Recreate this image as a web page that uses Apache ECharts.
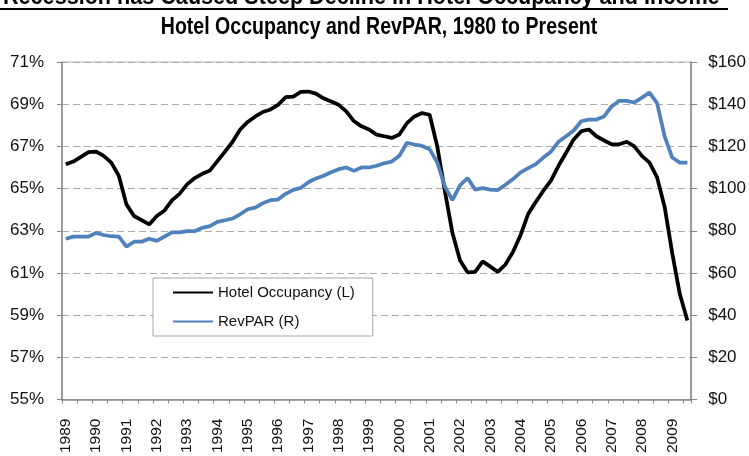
<!DOCTYPE html>
<html>
<head>
<meta charset="utf-8">
<script src="https://cdn.jsdelivr.net/npm/echarts@6/dist/echarts.min.js"></script>
<style>
html, body { margin: 0; padding: 0; background: #fff; }
#hotelChart { width: 749px; height: 456px; }
</style>
</head>
<body>
<div id="hotelChart"></div>
<script>
// tick labels, one per year, quarterly points
var years = ['1989', '1990', '1991', '1992', '1993', '1994', '1995', '1996', '1997', '1998', '1999',
    '2000', '2001', '2002', '2003', '2004', '2005', '2006', '2007', '2008', '2009'];
var quarters = ['Q1', 'Q2', 'Q3', 'Q4'];

// Hotel occupancy (%), left axis
var occupancy = [
    66.15, 66.28, 66.5, 66.73, 66.75, 66.55, 66.23, 65.6,
    64.25, 63.7, 63.5, 63.3, 63.7, 63.95, 64.44, 64.75,
    65.2, 65.5, 65.7, 65.85, 66.3, 66.75, 67.22, 67.8,
    68.16, 68.42, 68.63, 68.75, 68.97, 69.33, 69.36, 69.58,
    69.6, 69.5, 69.28, 69.13, 68.97, 68.66, 68.2, 67.95,
    67.8, 67.56, 67.48, 67.4, 67.56, 68.1, 68.42, 68.58,
    68.5, 67.0, 64.9, 62.9, 61.6, 61.03, 61.05, 61.55,
    61.3, 61.05, 61.4, 62.0, 62.8, 63.8, 64.36, 64.9,
    65.38, 66.08, 66.7, 67.33, 67.72, 67.8, 67.48, 67.28,
    67.1, 67.1, 67.22, 67.0, 66.55, 66.23, 65.53, 64.13,
    61.94, 60.0, 58.75
];

// RevPAR ($), right axis
var revpar = [
    76.2, 77.2, 77.2, 77.2, 79.0, 78.0, 77.4, 77.2,
    72.5, 74.8, 74.8, 76.2, 75.2, 77.2, 79.2, 79.2,
    79.8, 79.8, 81.4, 82.2, 84.2, 85.0, 85.8, 87.8,
    90.2, 91.0, 93.1, 94.5, 94.8, 97.5, 99.4, 100.3,
    103.0, 104.8, 106.1, 107.7, 109.2, 110.0, 108.4, 110.0,
    110.0, 110.8, 112.0, 112.8, 115.5, 121.7, 120.9, 120.2,
    118.6, 112.5, 101.0, 94.5, 101.5, 105.0, 99.5, 100.2,
    99.5, 99.3, 101.8, 104.5, 107.7, 109.7, 111.6, 114.7,
    117.5, 122.2, 124.8, 127.5, 131.9, 132.7, 132.7, 134.2,
    138.9, 141.6, 141.6, 140.8, 143.1, 145.5, 140.5, 124.8,
    114.7, 112.3, 112.3
];

var seriesNames = ['Hotel Occupancy (L)', 'RevPAR (R)'];

function buildCategories() {
    var cats = [];
    for (var i = 0; i < years.length; i++) {
        for (var j = 0; j < quarters.length; j++) {
            cats.push(years[i] + ' ' + quarters[j]);
        }
    }
    return cats.slice(0, occupancy.length);
}

function drawChart() {
    var chart = echarts.init(document.getElementById('hotelChart'), null, { renderer: 'canvas' });
    var axisColor = '#868686';
    var textColor = '#111';
    var labelFont = "'Liberation Sans', Arial, sans-serif";

    var option = {
        animation: false,
        backgroundColor: '#fff',
        // no narrow font installed, so the heading texts are squeezed with scaleX
        graphic: [{
            type: 'text',
            x: 3,
            y: 9,
            scaleX: 0.9,
            style: {
                text: 'Recession has Caused Steep Decline in Hotel Occupancy and Income',
                font: 'bold 24px ' + labelFont,
                fill: '#000',
                align: 'left',
                verticalAlign: 'bottom'
            }
        }, {
            type: 'line',
            shape: { x1: 0, y1: 9, x2: 728, y2: 9 },
            style: { stroke: '#000', lineWidth: 2 }
        }, {
            type: 'text',
            x: 379,
            y: 28,
            scaleX: 0.85,
            style: {
                text: 'Hotel Occupancy and RevPAR, 1980 to Present',
                font: 'bold 23px ' + labelFont,
                fill: '#000',
                align: 'center',
                verticalAlign: 'middle'
            }
        }],
        grid: {
            left: 62,
            right: 56,
            top: 62,
            bottom: 55,
            show: true,
            borderColor: '#b4b4b4',
            borderWidth: 1
        },
        legend: {
            orient: 'vertical',
            left: 153,
            top: 278,
            padding: [7, 18, 7, 20],
            itemGap: 14,
            itemWidth: 40,
            itemHeight: 2,
            icon: 'rect',
            borderColor: '#a6a6a6',
            borderWidth: 1,
            backgroundColor: '#fff',
            textStyle: { fontSize: 15, color: textColor, fontFamily: labelFont },
            data: seriesNames
        },
        xAxis: [{
            type: 'category',
            boundaryGap: true,
            data: buildCategories(),
            axisLine: { lineStyle: { color: axisColor, width: 1.5 } },
            axisTick: { show: true, interval: 1, length: 4, lineStyle: { color: axisColor } },
            axisLabel: {
                interval: 3,
                rotate: 90,
                margin: 19,
                fontSize: 15.5,
                color: textColor,
                fontFamily: labelFont,
                formatter: function (v) { return v.slice(0, 4); }
            },
            splitLine: { show: false }
        }],
        yAxis: [{
            type: 'value',
            position: 'left',
            min: 55,
            max: 71,
            interval: 2,
            axisLine: { show: true, lineStyle: { color: axisColor, width: 1.5 } },
            axisTick: { show: true, length: 5, lineStyle: { color: axisColor } },
            axisLabel: { formatter: '{value}%', fontSize: 17, margin: 18, color: textColor, fontFamily: labelFont },
            splitLine: { show: true, lineStyle: { color: '#ababab', type: [7, 4], width: 1 } }
        }, {
            type: 'value',
            position: 'right',
            min: 0,
            max: 160,
            interval: 20,
            axisLine: { show: true, lineStyle: { color: axisColor, width: 1.5 } },
            axisTick: { show: true, length: 6, lineStyle: { color: axisColor } },
            axisLabel: { formatter: '${value}', fontSize: 17, margin: 17, color: textColor, fontFamily: labelFont },
            splitLine: { show: false }
        }],
        series: [{
            name: seriesNames[0],
            type: 'line',
            yAxisIndex: 0,
            symbol: 'none',
            showSymbol: false,
            itemStyle: { color: '#000' },
            lineStyle: { color: '#000', width: 3.75 },
            data: occupancy
        }, {
            name: seriesNames[1],
            type: 'line',
            yAxisIndex: 1,
            symbol: 'none',
            showSymbol: false,
            itemStyle: { color: '#4f81bd' },
            lineStyle: { color: '#4f81bd', width: 3.75 },
            data: revpar
        }]
    };

    chart.setOption(option);
}

drawChart();
</script>
</body>
</html>
